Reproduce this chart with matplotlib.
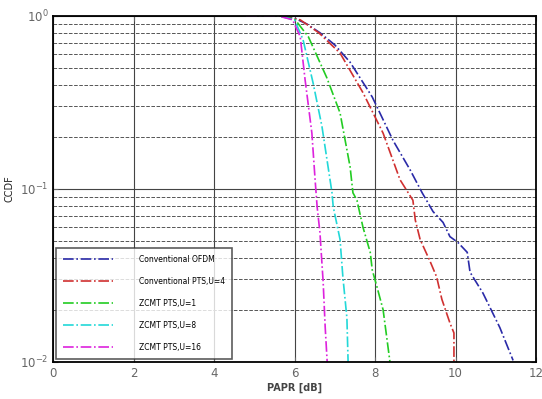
import matplotlib
matplotlib.use('Agg')
import matplotlib.pyplot as plt

# PAPR [dB] vs CCDF
ofdm_x = [4.8, 5.6, 6.0, 6.3, 6.63, 7.0, 7.38, 7.93, 8.45, 8.87, 9.17, 9.44, 9.69, 9.86, 10.06,
          10.29, 10.36, 10.68, 11.1, 11.43]
ofdm_y = [1.0, 1.0, 0.97, 0.9, 0.80, 0.68, 0.54, 0.34, 0.19, 0.129, 0.095, 0.074, 0.064, 0.053, 0.049,
          0.043, 0.033, 0.025, 0.0158, 0.0102]

pts4_x = [4.8, 5.6, 6.14, 6.6, 7.13, 7.7, 8.2, 8.62, 8.94, 9.0, 9.12, 9.37, 9.53, 9.66, 9.86, 9.96, 9.96]
pts4_y = [1.0, 1.0, 0.95, 0.80, 0.61, 0.36, 0.21, 0.113, 0.086, 0.066, 0.051, 0.038, 0.031, 0.023,
          0.0168, 0.0147, 0.01]

zcmt1_x = [4.8, 5.6, 6.0, 6.34, 6.8, 7.13, 7.38, 7.45, 7.55, 7.70, 7.88, 7.93, 8.05, 8.2, 8.37]
zcmt1_y = [1.0, 1.0, 0.96, 0.76, 0.44, 0.275, 0.134, 0.095, 0.086, 0.06, 0.043, 0.034, 0.027, 0.02, 0.01]

zcmt8_x = [4.8, 5.6, 6.0, 6.21, 6.46, 6.68, 6.93, 6.96, 7.13, 7.2, 7.3, 7.33]
zcmt8_y = [1.0, 1.0, 0.95, 0.73, 0.41, 0.23, 0.095, 0.079, 0.051, 0.031, 0.018, 0.01]

zcmt16_x = [4.8, 5.6, 5.95, 6.14, 6.26, 6.43, 6.51, 6.56, 6.63, 6.71, 6.76, 6.81]
zcmt16_y = [1.0, 1.0, 0.95, 0.76, 0.43, 0.21, 0.113, 0.079, 0.056, 0.029, 0.016, 0.01]

labels = ['Conventional OFDM', 'Conventional PTS,U=4', 'ZCMT PTS,U=1', 'ZCMT PTS,U=8', 'ZCMT PTS,U=16']
colors = ['#2a2aa8', '#d03030', '#22cc22', '#22d8d8', '#dd22dd']


def main():
    fig = plt.figure(figsize=(5.42, 3.99), dpi=100)
    ax = fig.add_axes([0.098, 0.093, 0.891, 0.867])

    series = [(ofdm_x, ofdm_y), (pts4_x, pts4_y), (zcmt1_x, zcmt1_y),
              (zcmt8_x, zcmt8_y), (zcmt16_x, zcmt16_y)]
    for (xs, ys), lab, col in zip(series, labels, colors):
        ax.semilogy(xs, ys, linestyle='-.', color=col, linewidth=1.2, label=lab)

    ax.set_xlim(0, 12)
    ax.set_ylim(1e-2, 1)
    ax.set_xticks([0, 2, 4, 6, 8, 10, 12])
    ax.grid(True, which='major', color='#444444', linewidth=0.8)
    ax.grid(True, which='minor', color='#555555', linewidth=0.7, linestyle='--')
    ax.tick_params(which='both', direction='in', top=True, right=True, labelsize=8.5, colors='#666666')
    for sp in ax.spines.values():
        sp.set_linewidth(1.3)

    ax.set_xlabel('PAPR [dB]', fontsize=7, fontweight='bold', color='#444444', labelpad=2)
    ax.set_ylabel('CCDF', fontsize=7, color='#222222', labelpad=4)

    leg = ax.legend(loc='lower left', fontsize=5.5, handlelength=6.5, labelspacing=1.7,
                    fancybox=False, edgecolor='#333333', borderpad=0.9, handletextpad=3.5,
                    borderaxespad=0.4)
    leg.get_frame().set_linewidth(1.2)

    fig.savefig('out.png', dpi=100)


if __name__ == '__main__':
    main()
